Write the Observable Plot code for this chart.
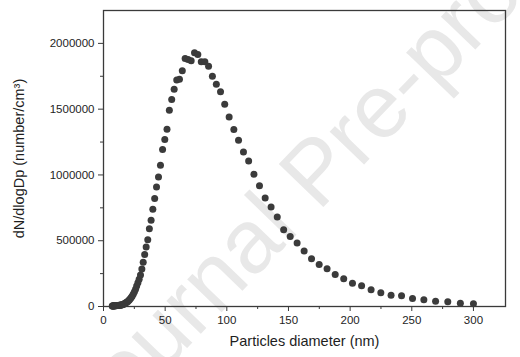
<!DOCTYPE html>
<html>
<head>
<meta charset="utf-8">
<script src="https://cdn.jsdelivr.net/npm/d3@7"></script>
<script src="https://cdn.jsdelivr.net/npm/@observablehq/plot@0.6"></script>
<style>
  html, body { margin: 0; padding: 0; background: #fff; }
  #chart { width: 520px; height: 357px; }
  svg { font-family: "Liberation Sans", Arial, sans-serif; }
</style>
</head>
<body>
<div id="chart"></div>
<script>
// Particle diameter (nm)
const diameters = [
  7.1, 7.3, 7.6, 7.9, 8.2, 8.5, 8.8, 9.1, 9.5, 9.8,
  10.2, 10.5, 10.9, 11.3, 11.8, 12.2, 12.6, 13.1, 13.6, 14.1,
  14.6, 15.1, 15.7, 16.3, 16.9, 17.5, 18.1, 18.8, 19.5, 20.2,
  20.9, 21.7, 22.5, 23.3, 24.2, 25.1, 26.0, 26.9, 27.9, 28.9,
  30.0, 31.1, 32.2, 33.4, 34.6, 35.9, 37.2, 38.6, 40.0, 41.5,
  43.0, 44.6, 46.2, 47.9, 49.7, 51.5, 53.4, 55.3, 57.3, 59.4,
  61.6, 63.9, 66.2, 68.6, 71.1, 73.8, 76.5, 79.3, 82.2, 85.2,
  88.3, 91.5, 94.9, 98.3, 101.9, 105.7, 109.5, 113.5, 117.7, 122.0,
  126.5, 131.1, 135.9, 140.9, 146.1, 151.4, 157.0, 162.7, 168.7, 174.9,
  181.3, 187.9, 194.8, 201.9, 209.3, 217.0, 224.9, 233.2, 241.7, 250.6,
  259.8, 269.3, 279.2, 289.4, 300.0
];
// dN/dlogDp (number/cm3)
const concentrations = [
  3000, 3000, 4000, 4000, 4000, 5000, 5000, 5000, 6000, 6000,
  6000, 7000, 7000, 7000, 8000, 8000, 9000, 9000, 10000, 11000,
  12000, 14000, 16000, 18000, 21000, 24000, 28000, 32000, 37000, 43000,
  50000, 58000, 68000, 80000, 95000, 112000, 132000, 155000, 180000, 207000,
  240000, 285000, 337000, 396000, 452000, 508000, 591000, 655000, 740000, 820000,
  908000, 985000, 1074000, 1193000, 1269000, 1348000, 1492000, 1574000, 1652000, 1721000,
  1728000, 1792000, 1886000, 1878000, 1868000, 1929000, 1915000, 1860000, 1860000, 1827000,
  1751000, 1690000, 1632000, 1538000, 1441000, 1345000, 1264000, 1175000, 1106000, 1005000,
  918000, 825000, 756000, 680000, 584000, 533000, 482000, 421000, 363000, 320000,
  287000, 244000, 211000, 177000, 157000, 127000, 104000, 86000, 81000, 61000,
  51000, 40000, 36000, 25000, 21000
];
const xTicks = [0, 50, 100, 150, 200, 250, 300];
const xMinorTicks = [25, 75, 125, 175, 225, 275];
const yTicks = [0, 500000, 1000000, 1500000, 2000000];
const yMinorTicks = [250000, 750000, 1250000, 1750000];
const xTitle = "Particles diameter (nm)";
const yTitle = "dN/dlogDp (number/cm³)";
const watermark = "Journal Pre-proof";

const data = diameters.map((d, i) => ({d, n: concentrations[i]}));

const axisColor = "#3a3a3a";
const textColor = "#1e1e1e";
const font = "'Liberation Sans', Arial, sans-serif";

const chart = Plot.plot({
  width: 520,
  height: 357,
  marginLeft: 103,
  marginRight: 15,
  marginTop: 10,
  marginBottom: 51,
  style: {fontFamily: font, background: "#fff", overflow: "hidden"},
  x: {domain: [0, 326]},
  y: {domain: [0, 2250000]},
  marks: [
    Plot.text([watermark], {
      frameAnchor: "middle", dx: 12, dy: 14,
      rotate: -46, fontSize: 90, fill: "#e8e8e8", fontFamily: font
    }),
    Plot.frame({stroke: axisColor, strokeWidth: 1.3}),
    Plot.axisX({ticks: xTicks, tickSize: 5, tickPadding: 4, tickFormat: d3.format("d"),
      fontSize: 11.5, color: textColor, stroke: axisColor, label: null}),
    Plot.axisX({ticks: xMinorTicks, tickSize: 3, tickFormat: () => "", stroke: axisColor, label: null}),
    Plot.axisY({ticks: yTicks, tickSize: 5, tickPadding: 4, tickFormat: d3.format("d"),
      fontSize: 11.5, color: textColor, stroke: axisColor, label: null}),
    Plot.axisY({ticks: yMinorTicks, tickSize: 3, tickFormat: () => "", stroke: axisColor, label: null}),
    Plot.text([xTitle], {frameAnchor: "bottom", dy: 39, fontSize: 14.5, fill: textColor}),
    Plot.text([yTitle], {frameAnchor: "left", dx: -84, rotate: -90, textAnchor: "middle",
      fontSize: 14.5, fill: textColor}),
    Plot.dot(data, {x: "d", y: "n", r: 3.5, fill: "#3b3b3b", stroke: "none"})
  ]
});
document.getElementById("chart").appendChild(chart);
</script>
</body>
</html>
